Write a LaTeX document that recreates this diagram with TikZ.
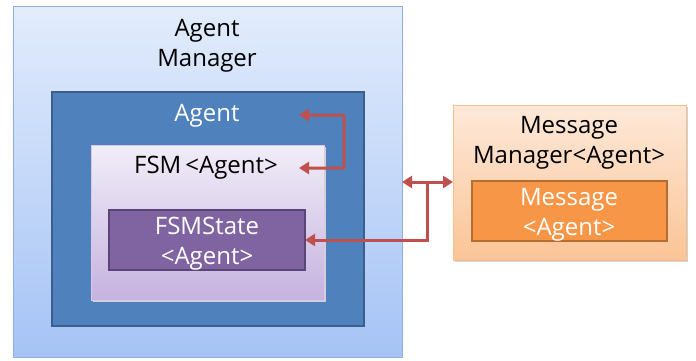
\documentclass[tikz,border=0pt]{standalone}
\usepackage{fontspec}
\setmainfont{Open Sans}
\usetikzlibrary{arrows.meta}

\definecolor{amtop}{HTML}{E2ECFC}
\definecolor{ambot}{HTML}{A5C3F5}
\definecolor{amline}{HTML}{8FB0DC}
\definecolor{agfill}{HTML}{4F81BD}
\definecolor{agline}{HTML}{3B5E8C}
\definecolor{fsmtop}{HTML}{F1EDF8}
\definecolor{fsmbot}{HTML}{C6B2DF}
\definecolor{fsmline}{HTML}{D6CAE6}
\definecolor{stfill}{HTML}{8064A2}
\definecolor{stline}{HTML}{5B4577}
\definecolor{mmtop}{HTML}{FDE9D9}
\definecolor{mmbot}{HTML}{FBC496}
\definecolor{mmline}{HTML}{F8BE8E}
\definecolor{msgfill}{HTML}{F79646}
\definecolor{msgline}{HTML}{B66D31}
\definecolor{link}{HTML}{C0504D}

\tikzset{
  box/.style={anchor=north west, inner sep=0pt, outer sep=0pt},
  lbl/.style={font=\fontsize{24}{30}\selectfont, align=center, inner sep=0pt},
  wlbl/.style={lbl, text=white},
  link/.style={draw=link, line width=3pt,
    {Triangle[length=10pt,width=12pt]}-{Triangle[length=10pt,width=12pt]}},
  linkone/.style={draw=link, line width=3pt, -{Triangle[length=10pt,width=12pt]}},
  shadow/.style={fill=black!18, draw=none}
}

\begin{document}
\begin{tikzpicture}[x=1pt, y=-1pt]
\useasboundingbox (0,0) rectangle (696,361);

% Agent Manager container
\node[box, draw=amline, line width=1pt, top color=amtop, bottom color=ambot,
      minimum width=389pt, minimum height=350pt] (am) at (13,7) {};
\node[lbl] (amlbl) at (207,45.5) {Agent\\Manager};

% Agent
\node[box, draw=agline, line width=2pt, fill=agfill,
      minimum width=312pt, minimum height=234pt] (ag) at (52,92) {};
\node[wlbl, anchor=base] (aglbl) at (207,121) {Agent};

% FSM<Agent>, with a light shadow
\fill[shadow] (93,147) rectangle (326,302);
\node[box, draw=fsmline, line width=1pt, top color=fsmtop, bottom color=fsmbot,
      minimum width=233pt, minimum height=155pt] (fsm) at (91,145) {};
\node[lbl, anchor=base] (fsmlbl) at (206,173) {FSM\,<Agent>};

% FSMState<Agent>
\node[box, draw=stline, line width=2pt, fill=stfill,
      minimum width=196pt, minimum height=60pt] (st) at (109,210) {};
\node[wlbl] (stlbl) at (207,243.6) {FSMState\\<Agent>};

% Message Manager<Agent>, with a light shadow
\fill[shadow] (455,107) rectangle (688,262);
\node[box, draw=mmline, line width=1pt, top color=mmtop, bottom color=mmbot,
      minimum width=233pt, minimum height=155pt] (mm) at (453,105) {};
\node[lbl] (mmlbl) at (569,142.7) {Message\\Manager<Agent>};

% Message<Agent>
\node[box, draw=msgline, line width=2pt, fill=msgfill,
      minimum width=195pt, minimum height=60pt] (msg) at (472,181) {};
\node[wlbl] (msglbl) at (569,215) {Message\\<Agent>};

% Agent <-> FSM link
\coordinate (agtip) at (299,115);
\coordinate (fsmtip) at (299,168);
\draw[link, rounded corners=1pt] (agtip) -| (344,142) |- (fsmtip);

% Agent Manager <-> Message Manager, branching down to FSMState
\coordinate (junc) at (427,182);
\draw[link] (am.east |- junc) -- (mm.west |- junc);
\draw[linkone] (junc) |- (st.east);
\end{tikzpicture}
\end{document}
